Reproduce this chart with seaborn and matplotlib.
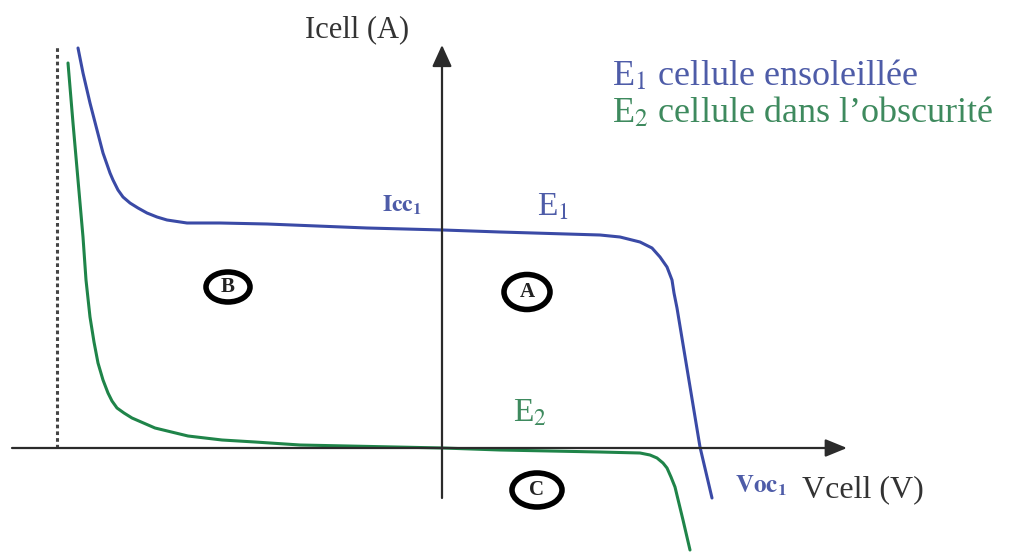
import numpy as np
import pandas as pd
import matplotlib
matplotlib.use("Agg")
import matplotlib.pyplot as plt
from matplotlib.patches import Ellipse
import seaborn as sns

# I-V characteristic of the illuminated cell (E1): voltage, current (arbitrary units)
v_e1 = [-3.64, -3.59, -3.52, -3.45, -3.39, -3.32, -3.29, -3.24, -3.19, -3.12,
        -3.04, -2.95, -2.85, -2.75, -2.55, -2.22, -1.75, -0.75, 0.01, 0.58,
        1.58, 1.78, 1.98, 2.10, 2.18, 2.25, 2.30, 2.32, 2.35, 2.58, 2.70]
i_e1 = [4.00, 3.75, 3.45, 3.18, 2.95, 2.75, 2.68, 2.58, 2.51, 2.45,
        2.40, 2.35, 2.31, 2.28, 2.25, 2.25, 2.24, 2.20, 2.18, 2.16,
        2.13, 2.11, 2.06, 2.00, 1.91, 1.81, 1.68, 1.55, 1.40, 0.01, -0.50]

# I-V characteristic of the cell in the dark (E2)
v_e2 = [-3.74, -3.69, -3.64, -3.59, -3.56, -3.52, -3.48, -3.44, -3.39, -3.34,
        -3.30, -3.25, -3.18, -3.10, -2.87, -2.54, -2.20, -1.87, -1.42, 0.01,
        0.58, 1.58, 1.98, 2.08, 2.15, 2.21, 2.25, 2.29, 2.33, 2.41, 2.48]
i_e2 = [3.85, 3.25, 2.68, 2.11, 1.68, 1.31, 1.06, 0.85, 0.68, 0.55,
        0.47, 0.40, 0.35, 0.30, 0.20, 0.12, 0.08, 0.06, 0.03, 0.00,
        -0.02, -0.04, -0.05, -0.07, -0.10, -0.15, -0.20, -0.29, -0.39, -0.72, -1.02]

# Region markers (label, centre V, centre I, width, height)
region_labels = ["B", "A", "C"]
region_v = [-2.14, 0.85, 0.95]
region_i = [1.61, 1.56, -0.42]
region_w = [0.44, 0.46, 0.50]
region_h = [0.30, 0.35, 0.34]

blue = "#3a4aa6"
green = "#1f8449"
blue_txt = "#4e5ca8"
green_txt = "#3e8a5e"
axis_col = "#2b2b2b"

sns.set_theme(style="white")
plt.rcParams["font.family"] = ["Liberation Serif", "DejaVu Serif"]
plt.rcParams["mathtext.fontset"] = "stix"

fig = plt.figure(figsize=(10.10, 5.53), dpi=100)
ax = fig.add_axes([0, 0, 1, 1])
ax.set_xlim(-4.42, 5.68)
ax.set_ylim(-1.05, 4.48)
ax.axis("off")

# Axes drawn as arrows through the origin
ax.annotate("", xy=(4.05, 0), xytext=(-4.30, 0),
            arrowprops=dict(arrowstyle="-|>,head_length=1.1,head_width=0.45",
                            color=axis_col, lw=1.6, shrinkA=0, shrinkB=0))
ax.annotate("", xy=(0, 4.03), xytext=(0, -0.50),
            arrowprops=dict(arrowstyle="-|>,head_length=1.1,head_width=0.5",
                            color=axis_col, lw=1.6, shrinkA=0, shrinkB=0))

# Breakdown asymptote
ax.plot([-3.85, -3.85], [0, 4.03], color="#444444", lw=2.2,
        linestyle=(0, (1.2, 1.0)))

df1 = pd.DataFrame({"V": v_e1, "I": i_e1})
df2 = pd.DataFrame({"V": v_e2, "I": i_e2})
sns.lineplot(data=df1, x="V", y="I", sort=False, estimator=None,
             color=blue, lw=2.2, ax=ax, solid_joinstyle="round",
             solid_capstyle="round")
sns.lineplot(data=df2, x="V", y="I", sort=False, estimator=None,
             color=green, lw=2.2, ax=ax, solid_joinstyle="round",
             solid_capstyle="round")
ax.set_xlabel("")
ax.set_ylabel("")

# Axis titles
ax.text(-0.85, 4.11, "Icell (A)", fontsize=22, color="#333333",
        ha="center", va="baseline")
ax.text(3.60, -0.49, "Vcell (V)", fontsize=23, color="#333333",
        ha="left", va="baseline")
ax.text(3.19, -0.44, r"$\mathbf{Voc_1}$", fontsize=18, color=blue_txt,
        ha="center", va="baseline")
ax.text(-0.40, 2.36, r"$\mathbf{Icc_1}$", fontsize=17, color=blue_txt,
        ha="center", va="baseline")

# Curve names
ax.text(1.11, 2.33, r"E$_1$", fontsize=24, color=blue_txt,
        ha="center", va="baseline")
ax.text(0.88, 0.26, r"E$_2$", fontsize=24, color=green_txt,
        ha="center", va="baseline")

# Legend text
ax.text(1.70, 3.63, r"E$_1$ cellule ensoleillée", fontsize=26,
        color=blue_txt, ha="left", va="baseline")
ax.text(1.70, 3.26, r"E$_2$ cellule dans l’obscurité", fontsize=26,
        color=green_txt, ha="left", va="baseline")

# Circled region markers
for lab, cx, cy, w, h in zip(region_labels, region_v, region_i, region_w, region_h):
    ax.add_patch(Ellipse((cx, cy), w, h, facecolor="white",
                         edgecolor="black", lw=4.0, zorder=5))
    ax.text(cx, cy, lab, fontsize=15, fontweight="bold", color="#222222",
            ha="center", va="center", zorder=6)

fig.savefig("out.png", dpi=100, facecolor="white")
